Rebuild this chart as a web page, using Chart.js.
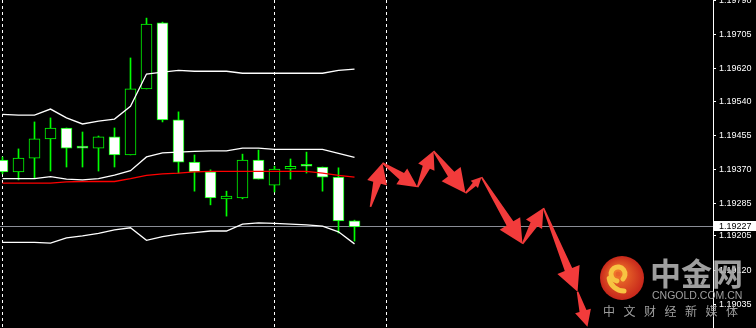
<!DOCTYPE html>
<html>
<head>
<meta charset="utf-8">
<script src="https://cdn.jsdelivr.net/npm/chart.js@4.4.1/dist/chart.umd.min.js"></script>
<style>
  html, body { margin: 0; padding: 0; background: #000; }
  canvas { display: block; }
</style>
</head>
<body>
<canvas id="chart" width="756" height="328"></canvas>
<script>
// EURUSD-style candles (bar index 0..22)
const opens  = [1.19393, 1.19364, 1.19398, 1.19446, 1.19473, 1.19423, 1.19423, 1.19451, 1.19406, 1.19570, 1.19734, 1.19493, 1.19388, 1.19364, 1.19297, 1.19299, 1.19393, 1.19331, 1.19371, 1.19378, 1.19376, 1.19351, 1.19242]
const highs  = [1.19401, 1.19421, 1.19488, 1.19498, 1.19473, 1.19463, 1.19453, 1.19473, 1.19647, 1.19746, 1.19736, 1.19513, 1.19406, 1.19369, 1.19316, 1.19408, 1.19418, 1.19378, 1.19396, 1.19413, 1.19376, 1.19374, 1.19244]
const lows   = [1.19359, 1.19344, 1.19349, 1.19366, 1.19376, 1.19376, 1.19366, 1.19376, 1.19406, 1.19570, 1.19488, 1.19361, 1.19316, 1.19282, 1.19254, 1.19297, 1.19346, 1.19314, 1.19346, 1.19361, 1.19316, 1.19212, 1.19192]
const closes = [1.19364, 1.19398, 1.19446, 1.19473, 1.19423, 1.19423, 1.19451, 1.19406, 1.19570, 1.19731, 1.19493, 1.19388, 1.19364, 1.19299, 1.19304, 1.19393, 1.19346, 1.19371, 1.19378, 1.19378, 1.19351, 1.19242, 1.19227]

// indicator lines
const bandUpper = [1.19507, 1.19505, 1.19505, 1.19520, 1.19498, 1.19483, 1.19490, 1.19495, 1.19527, 1.19607, 1.19612, 1.19616, 1.19614, 1.19614, 1.19614, 1.19609, 1.19609, 1.19609, 1.19609, 1.19609, 1.19609, 1.19616, 1.19619]
const bandInner = [1.19347, 1.19347, 1.19347, 1.19352, 1.19346, 1.19344, 1.19347, 1.19356, 1.19367, 1.19401, 1.19411, 1.19413, 1.19415, 1.19416, 1.19416, 1.19423, 1.19423, 1.19420, 1.19420, 1.19420, 1.19420, 1.19410, 1.19400]
const maRed     = [1.19336, 1.19336, 1.19336, 1.19336, 1.19339, 1.19340, 1.19340, 1.19340, 1.19347, 1.19355, 1.19359, 1.19361, 1.19364, 1.19365, 1.19365, 1.19365, 1.19365, 1.19365, 1.19365, 1.19365, 1.19361, 1.19355, 1.19351]
const bandLower = [1.19189, 1.19189, 1.19189, 1.19187, 1.19200, 1.19205, 1.19211, 1.19220, 1.19225, 1.19194, 1.19203, 1.19209, 1.19213, 1.19217, 1.19217, 1.19234, 1.19237, 1.19236, 1.19234, 1.19232, 1.19229, 1.19215, 1.19185]

// forecast zigzag drawn as arrows (bar index, price)
const arrowIdx   = [23.0, 23.75, 25.94, 26.94, 28.94, 29.94, 32.5, 33.81, 35.94, 36.56]
const arrowPrice = [1.19277, 1.19386, 1.19326, 1.19416, 1.19311, 1.19351, 1.19185, 1.19274, 1.19066, 1.18979]

const priceTicks = [1.19790, 1.19705, 1.19620, 1.19540, 1.19455, 1.19370, 1.19285, 1.19205, 1.19120, 1.19035]
const gridIdx = [0, 17, 24]
const lastPrice = 1.19227

const candleIdx = opens.map((_, i) => i)
const wickData = candleIdx.map(i => ({ x: i, y: [lows[i], highs[i]] }))
const bodyData = candleIdx.map(i => ({ x: i, y: [opens[i], closes[i]] }))
const bodyFill = candleIdx.map(i => closes[i] > opens[i] ? '#000000' : '#ffffff')
const toPoints = arr => arr.map((v, i) => ({ x: i, y: v }))

Chart.defaults.font.family = '"Liberation Sans", Arial, sans-serif'

const background = {
  id: 'background',
  beforeDraw(chart) {
    const { ctx, width, height } = chart
    ctx.save()
    ctx.fillStyle = '#000000'
    ctx.fillRect(0, 0, width, height)
    ctx.restore()
  }
}

const guides = {
  id: 'guides',
  beforeDatasetsDraw(chart) {
    const { ctx, chartArea, scales: { x, y } } = chart
    ctx.save()
    ctx.strokeStyle = '#ffffff'
    ctx.lineWidth = 1
    ctx.setLineDash([3, 3])
    gridIdx.forEach(i => {
      const px = x.getPixelForValue(i)
      ctx.beginPath()
      ctx.moveTo(px, chartArea.top)
      ctx.lineTo(px, chartArea.bottom)
      ctx.stroke()
    })
    ctx.setLineDash([])
    const py = Math.floor(y.getPixelForValue(lastPrice)) + 0.5
    ctx.strokeStyle = '#8a8d96'
    ctx.beginPath()
    ctx.moveTo(chartArea.left, py)
    ctx.lineTo(chartArea.right, py)
    ctx.stroke()
    ctx.restore()
  }
}

function drawArrow(ctx, ax, ay, bx, by) {
  const dx = bx - ax, dy = by - ay
  const len = Math.hypot(dx, dy)
  const ux = dx / len, uy = dy / len
  const nx = -uy, ny = ux
  const head = Math.min(24, len * 0.45)
  const half = head * 0.5
  const shaft = Math.min(4, head * 0.22)
  const cx = bx - ux * head, cy = by - uy * head
  ctx.beginPath()
  ctx.moveTo(ax + nx * 0.8, ay + ny * 0.8)
  ctx.lineTo(cx + nx * shaft, cy + ny * shaft)
  ctx.lineTo(cx + nx * half, cy + ny * half)
  ctx.lineTo(bx, by)
  ctx.lineTo(cx - nx * half, cy - ny * half)
  ctx.lineTo(cx - nx * shaft, cy - ny * shaft)
  ctx.lineTo(ax - nx * 0.8, ay - ny * 0.8)
  ctx.closePath()
  ctx.fill()
}

const arrows = {
  id: 'arrows',
  afterDatasetsDraw(chart) {
    const { ctx, scales: { x, y } } = chart
    ctx.save()
    ctx.fillStyle = '#f23b3b'
    for (let k = 0; k < arrowIdx.length - 1; k++) {
      drawArrow(ctx,
        x.getPixelForValue(arrowIdx[k]), y.getPixelForValue(arrowPrice[k]),
        x.getPixelForValue(arrowIdx[k + 1]), y.getPixelForValue(arrowPrice[k + 1]))
    }
    ctx.restore()
  }
}

const priceLabel = {
  id: 'priceLabel',
  afterDraw(chart) {
    const { ctx, chartArea, width, scales: { y } } = chart
    const py = Math.floor(y.getPixelForValue(lastPrice)) + 0.5
    ctx.save()
    ctx.fillStyle = '#ffffff'
    ctx.fillRect(chartArea.right + 1, py - 5.5, width - chartArea.right - 1, 10)
    ctx.fillStyle = '#000000'
    ctx.font = '9px "Liberation Sans", Arial'
    ctx.textBaseline = 'middle'
    ctx.fillText(lastPrice.toFixed(5), chartArea.right + 6, py)
    ctx.restore()
  }
}

// cngold watermark
const watermark = {
  id: 'watermark',
  afterDraw(chart) {
    const { ctx } = chart
    ctx.save()
    const cx = 622, cy = 278, r = 22
    const g = ctx.createRadialGradient(cx - 5, cy - 6, 2, cx, cy, r)
    g.addColorStop(0, '#f27a2c')
    g.addColorStop(1, '#c7261b')
    ctx.fillStyle = g
    ctx.beginPath()
    ctx.arc(cx, cy, r, 0, Math.PI * 2)
    ctx.fill()

    ctx.strokeStyle = '#f7c442'
    ctx.lineCap = 'round'
    ctx.lineWidth = 5
    ctx.beginPath()
    ctx.arc(cx - 4, cy - 4, 7, Math.PI * 0.55, Math.PI * 2.25)
    ctx.stroke()
    ctx.beginPath()
    ctx.arc(cx + 2, cy - 2, 15, Math.PI * 0.5, Math.PI * 0.95)
    ctx.stroke()
    ctx.fillStyle = '#e8622a'
    ctx.beginPath()
    ctx.arc(cx - 4, cy - 4, 2.5, 0, Math.PI * 2)
    ctx.fill()

    ctx.fillStyle = 'rgba(172, 172, 172, 0.92)'
    ctx.textBaseline = 'middle'
    ctx.textAlign = 'left'
    ctx.font = 'bold 31px "Noto Sans CJK SC"'
    ctx.fillText('中金网', 650, 273)
    ctx.font = '10.5px "Liberation Sans", Arial'
    ctx.fillText('CNGOLD.COM.CN', 652, 296)
    ctx.font = '12px "Noto Sans CJK SC"'
    Array.from('中文财经新媒体').forEach((ch, k) => ctx.fillText(ch, 603 + k * 20.5, 311))
    ctx.restore()
  }
}

new Chart(document.getElementById('chart').getContext('2d'), {
  type: 'bar',
  data: {
    datasets: [
      { type: 'line', data: toPoints(bandUpper), borderColor: '#ffffff', borderWidth: 1.3, pointRadius: 0, tension: 0, order: 0 },
      { type: 'line', data: toPoints(bandInner), borderColor: '#ffffff', borderWidth: 1.3, pointRadius: 0, tension: 0, order: 0 },
      { type: 'line', data: toPoints(maRed), borderColor: '#ff0000', borderWidth: 1.3, pointRadius: 0, tension: 0, order: 0 },
      { type: 'line', data: toPoints(bandLower), borderColor: '#ffffff', borderWidth: 1.3, pointRadius: 0, tension: 0, order: 0 },
      {
        data: bodyData,
        backgroundColor: bodyFill,
        borderColor: '#00ff00',
        borderWidth: 1,
        borderSkipped: false,
        barThickness: 11,
        minBarLength: 2,
        grouped: false,
        order: 1
      },
      {
        data: wickData,
        backgroundColor: '#00ff00',
        borderWidth: 0,
        barThickness: 1,
        grouped: false,
        order: 2
      }
    ]
  },
  options: {
    responsive: false,
    animation: false,
    devicePixelRatio: 1,
    layout: { padding: 0 },
    scales: {
      x: {
        type: 'linear',
        display: false,
        offset: false,
        min: -0.15625,
        max: 44.40625
      },
      y: {
        position: 'right',
        min: 1.18976,
        max: 1.19791,
        afterFit(scale) {
          scale.width = 43
          scale.paddingTop = 0
          scale.paddingBottom = 0
        },
        afterBuildTicks(scale) { scale.ticks = priceTicks.map(v => ({ value: v })) },
        border: { display: true, color: '#ffffff', width: 1 },
        grid: { drawOnChartArea: false, drawTicks: true, tickLength: 3, color: '#ffffff' },
        ticks: {
          autoSkip: false,
          color: '#ffffff',
          padding: 3,
          font: { size: 9 },
          callback: value => value.toFixed(5)
        }
      }
    },
    plugins: {
      legend: { display: false },
      tooltip: { enabled: false }
    }
  },
  plugins: [background, guides, arrows, priceLabel, watermark]
})
</script>
</body>
</html>
